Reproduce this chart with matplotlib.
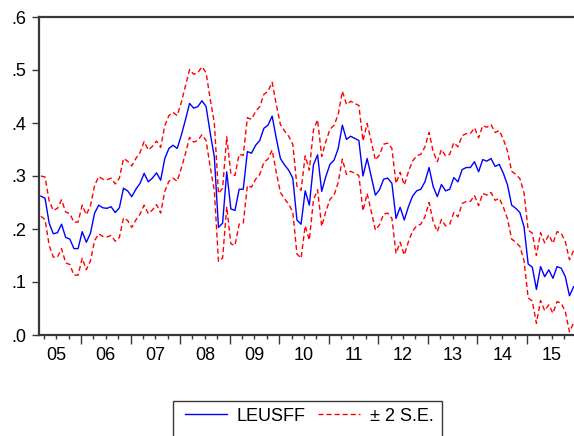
import numpy as np
import pandas as pd
import matplotlib
matplotlib.use('Agg')
import matplotlib.pyplot as plt
from matplotlib.lines import Line2D
from matplotlib.patches import Rectangle

# recursive coefficient on LEUSFF, monthly 2005M03 - 2015M12
leusff = [
    0.262, 0.258, 0.211, 0.191, 0.193, 0.209, 0.184, 0.181, 0.163, 0.163,
    0.195, 0.175, 0.192, 0.230, 0.245, 0.240, 0.239, 0.242, 0.231, 0.240,
    0.277, 0.272, 0.261, 0.275, 0.286, 0.305, 0.289, 0.296, 0.306, 0.292,
    0.333, 0.352, 0.358, 0.352, 0.377, 0.406, 0.437, 0.428, 0.431, 0.442,
    0.431, 0.381, 0.336, 0.203, 0.211, 0.308, 0.238, 0.235, 0.275, 0.275,
    0.346, 0.343, 0.358, 0.367, 0.390, 0.396, 0.413, 0.371, 0.333, 0.321,
    0.311, 0.296, 0.217, 0.209, 0.272, 0.245, 0.321, 0.340, 0.271, 0.299,
    0.322, 0.330, 0.352, 0.396, 0.369, 0.375, 0.371, 0.367, 0.300, 0.333,
    0.299, 0.264, 0.274, 0.294, 0.296, 0.286, 0.220, 0.241, 0.217, 0.242,
    0.262, 0.272, 0.275, 0.289, 0.316, 0.280, 0.261, 0.284, 0.272, 0.275,
    0.297, 0.289, 0.312, 0.316, 0.316, 0.327, 0.308, 0.331, 0.328, 0.333,
    0.318, 0.322, 0.305, 0.283, 0.245, 0.239, 0.231, 0.204, 0.134, 0.128,
    0.086, 0.129, 0.110, 0.123, 0.107, 0.129, 0.126, 0.110, 0.074, 0.091,
]

# standard error of the estimate
se = [
    0.019, 0.020, 0.021, 0.022, 0.023, 0.023, 0.024, 0.024, 0.025, 0.025,
    0.025, 0.026, 0.026, 0.026, 0.027, 0.027, 0.027, 0.027, 0.027, 0.028,
    0.028, 0.028, 0.029, 0.029, 0.029, 0.030, 0.030, 0.030, 0.030, 0.031,
    0.031, 0.031, 0.031, 0.031, 0.031, 0.032, 0.032, 0.032, 0.032, 0.032,
    0.032, 0.032, 0.032, 0.032, 0.033, 0.033, 0.033, 0.033, 0.033, 0.032,
    0.032, 0.032, 0.032, 0.032, 0.032, 0.032, 0.032, 0.032, 0.032, 0.032,
    0.032, 0.032, 0.032, 0.032, 0.033, 0.033, 0.033, 0.033, 0.033, 0.033,
    0.033, 0.033, 0.032, 0.032, 0.033, 0.033, 0.033, 0.033, 0.033, 0.033,
    0.033, 0.033, 0.033, 0.033, 0.033, 0.033, 0.033, 0.033, 0.033, 0.033,
    0.033, 0.033, 0.033, 0.033, 0.033, 0.033, 0.033, 0.033, 0.033, 0.033,
    0.033, 0.033, 0.032, 0.032, 0.032, 0.032, 0.032, 0.032, 0.032, 0.032,
    0.032, 0.032, 0.032, 0.032, 0.032, 0.032, 0.032, 0.032, 0.032, 0.032,
    0.032, 0.032, 0.032, 0.033, 0.033, 0.033, 0.033, 0.033, 0.034, 0.034,
]

year_labels = ['05', '06', '07', '08', '09', '10', '11', '12', '13', '14', '15']
y_ticks = [0.0, 0.1, 0.2, 0.3, 0.4, 0.5, 0.6]
y_tick_labels = ['.0', '.1', '.2', '.3', '.4', '.5', '.6']

plt.rcParams['font.family'] = ['Liberation Sans', 'DejaVu Sans']

leusff = np.array(leusff)
se = np.array(se)
dates = pd.period_range('2005-03', periods=len(leusff), freq='M')
xpos = dates.year + (dates.month - 1 + 0.3) / 12.0

fig = plt.figure(figsize=(5.74, 4.36), dpi=100)
fig.patch.set_facecolor('white')
ax = fig.add_axes([39 / 574, 1 - 335 / 436, 535 / 574, 318 / 436])

dash = (3.6, 2.2)
ax.plot(xpos, leusff + 2 * se, color='#FF0000', lw=1.0, dashes=dash)
ax.plot(xpos, leusff - 2 * se, color='#FF0000', lw=1.0, dashes=dash)
ax.plot(xpos, leusff, color='#0000FF', lw=1.0)

ax.set_xlim(2005.153, 2015.95)
ax.set_ylim(0, 0.6)

spine_col = '#383838'
for s in ['left', 'bottom', 'top']:
    ax.spines[s].set_color(spine_col)
    ax.spines[s].set_linewidth(1.6)
ax.spines['right'].set_visible(False)

ax.set_yticks(y_ticks)
ax.set_yticklabels(y_tick_labels, fontsize=13)
ax.tick_params(axis='y', direction='out', length=5, width=1, color=spine_col, pad=4)

first_year = 2005
ax.set_xticks([first_year + i for i in range(1, len(year_labels))])
ax.set_xticklabels([])
ax.set_xticks([first_year + i + q / 4 for i in range(len(year_labels)) for q in (1, 2, 3)], minor=True)
ax.tick_params(axis='x', which='major', direction='out', length=6.5, width=1, color=spine_col)
ax.tick_params(axis='x', which='minor', direction='out', length=3, width=1, color=spine_col)

for i, lab in enumerate(year_labels):
    ax.annotate(lab, xy=(first_year + i + 0.5, 0), xycoords=('data', 'axes fraction'),
                xytext=(0, -15), textcoords='offset points',
                ha='center', va='center', fontsize=13)

handles = [Line2D([], [], color='#0000FF', lw=1.0),
           Line2D([], [], color='#FF0000', lw=1.0, dashes=dash)]
fig.legend(handles, ['LEUSFF', '± 2 S.E.'], loc='center left',
           bbox_to_anchor=(185 / 574, 1 - 416 / 436), ncol=2, frameon=False,
           fontsize=13, handlelength=2.3, handletextpad=0.55, columnspacing=0.7,
           borderpad=0, borderaxespad=0)
fig.add_artist(Rectangle((173 / 574, -0.05), 269 / 574, 0.05 + 1 - 401 / 436,
                         transform=fig.transFigure, fill=False,
                         edgecolor=spine_col, lw=1.0, clip_on=False))

fig.savefig('out.png', dpi=100)
